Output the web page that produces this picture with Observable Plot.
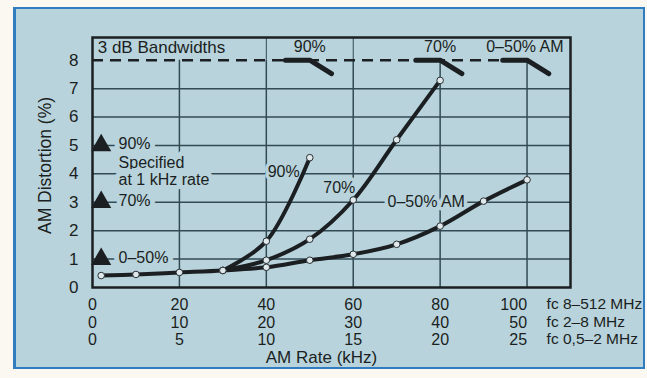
<!DOCTYPE html>
<html>
<head>
<meta charset="utf-8">
<script src="https://cdn.jsdelivr.net/npm/d3@7"></script>
<script src="https://cdn.jsdelivr.net/npm/@observablehq/plot@0.6"></script>
<style>
  html, body { margin: 0; padding: 0; background: #fbf8f1; }
  #panel { position: absolute; left: 13px; top: 7px; width: 627px; height: 358px;
           background: #b8d3dc; border: 2px solid #2f7cc0; border-left-width: 3px; }
  #chart { position: absolute; left: 0; top: 0; }
</style>
</head>
<body>
<div id="panel"></div>
<div id="chart"></div>
<script>
// ---- data ----
// AM rate (kHz) on the fc 8–512 MHz scale
const rate050 = [2, 10, 20, 30, 40, 50, 60, 70, 80, 90, 100];
const dist050 = [0.42, 0.46, 0.53, 0.6, 0.71, 0.96, 1.17, 1.52, 2.16, 3.04, 3.79];
const rate70 = [30, 40, 50, 60, 70, 80];
const dist70 = [0.6, 0.96, 1.7, 3.08, 5.2, 7.29];
const rate90 = [30, 40, 50];
const dist90 = [0.6, 1.63, 4.57];

// specified distortion at 1 kHz rate
const specLabels = ["90%", "70%", "0–50%"];
const specDist = [5, 3, 1];

// 3 dB bandwidths
const bwLabels = ["90%", "70%", "0–50% AM"];
const bwRate = [50, 80, 100];

// axes
const yTicks = [0, 1, 2, 3, 4, 5, 6, 7, 8];
const xTicks = [0, 20, 40, 60, 80, 100];
const xRow2 = [0, 10, 20, 30, 40, 50];
const xRow3 = [0, 5, 10, 15, 20, 25];
const bandLabels = ["fc 8–512 MHz", "fc 2–8 MHz", "fc 0,5–2 MHz"];
const curveLabels = ["90%", "70%", "0–50% AM"];

// ---- build ----
const ink = "#1b1f22";
const grid = "#324a54";
const bg = "#b8d3dc";

const s050 = rate050.map((x, i) => ({x, y: dist050[i], s: "0–50%"}));
const s70 = rate70.map((x, i) => ({x, y: dist70[i], s: "70%"}));
const s90 = rate90.map((x, i) => ({x, y: dist90[i], s: "90%"}));
const curves = [...s050, ...s70, ...s90];

const bwMarks = bwRate.flatMap((r, i) => [
  {x: r - 5.6, y: 8, k: i}, {x: r, y: 8, k: i}, {x: r + 5, y: 7.53, k: i}
]);

const rows = [xTicks, xRow2, xRow3];
const pads = [11, 29, 46];
const centers = [17, 35, 52];
const axisMarks = rows.flatMap((row, i) => [
  Plot.axisX(xTicks.slice(0, 5), {
    tickSize: 0, tickPadding: pads[i], fontSize: 16, fill: ink, label: null,
    tickFormat: d => String(row[xTicks.indexOf(d)])
  }),
  Plot.axisX([100], {
    tickSize: 0, tickPadding: pads[i], fontSize: 16, fill: ink, label: null,
    textAnchor: "end", tickFormat: d => String(row[xTicks.indexOf(d)])
  }),
  Plot.text([bandLabels[i]], {
    x: 104.5, frameAnchor: "bottom", dy: centers[i], lineAnchor: "middle", textAnchor: "start",
    fontSize: 15.5, fill: ink
  })
]);

const knock = {fill: ink, stroke: bg, strokeWidth: 10};

const chart = Plot.plot({
  width: 647, height: 378,
  marginLeft: 92, marginRight: 77, marginTop: 37, marginBottom: 91,
  x: {domain: [0, 110]},
  y: {domain: [0, 8.8]},
  style: {fontFamily: "'Liberation Sans', Arial, sans-serif", fontSize: "16px",
          background: "transparent", color: ink, overflow: "visible"},
  marks: [
    // grid
    Plot.ruleY(yTicks.filter(d => d > 0 && d < 8), {stroke: grid, strokeWidth: 1.5}),
    Plot.ruleX(xTicks.slice(1), {y1: 0, y2: 8, stroke: grid, strokeWidth: 1.5}),
    Plot.ruleX([40, 60], {y1: 8, y2: 8.8, stroke: grid, strokeWidth: 1}),
    // 3 dB bandwidth row
    Plot.ruleY([8], {x1: 0, x2: 100, stroke: ink, strokeWidth: 2.5, strokeDasharray: "11,7"}),
    Plot.line(bwMarks, {x: "x", y: "y", z: "k", stroke: ink, strokeWidth: 5}),
    Plot.text(["3 dB Bandwidths"], {x: 1.2, y: 8.46, textAnchor: "start", fontSize: 17, fill: ink}),
    Plot.text(bwLabels, {x: (d, i) => bwRate[i] - (i === 2 ? 0.5 : 0), y: 8.46, fontSize: 16, fill: ink}),
    // specified markers
    Plot.dot(specDist, {x: 2, y: d => d, symbol: "triangle", r: 7.5, fill: ink}),
    Plot.text(specLabels, {x: 6, y: (d, i) => specDist[i] + 0.05, textAnchor: "start", fontSize: 16, ...knock}),
    Plot.text(["Specified", "at 1 kHz rate"], {x: 6, y: (d, i) => [4.4, 3.8][i], textAnchor: "start",
      fontSize: 16, ...knock}),
    // curve labels
    Plot.text(curveLabels, {x: (d, i) => [44, 56.8, 76.8][i], y: (d, i) => [4.07, 3.5, 3.0][i],
      fontSize: 16, fill: ink, stroke: bg, strokeWidth: 7}),
    // curves
    Plot.line(curves, {x: "x", y: "y", z: "s", stroke: ink, strokeWidth: 4, curve: "catmull-rom"}),
    Plot.dot(curves, {x: "x", y: "y", r: 3.3, fill: "#dfe9ec", stroke: "#2a2f33", strokeWidth: 1}),
    // frame & axes
    Plot.frame({stroke: ink, strokeWidth: 2.5}),
    Plot.axisY(yTicks, {tickSize: 0, tickPadding: 14, fontSize: 17, fill: ink, label: null}),
    ...axisMarks,
    Plot.text(["AM Rate (kHz)"], {x: 52.7, frameAnchor: "bottom", dy: 70, lineAnchor: "middle", fontSize: 17, fill: ink}),
    Plot.text(["AM Distortion (%)"], {frameAnchor: "left", dx: -47, dy: 3, rotate: -90,
      textAnchor: "middle", lineAnchor: "middle", fontSize: 17.5, fill: ink})
  ]
});
document.getElementById("chart").appendChild(chart);
</script>
</body>
</html>
